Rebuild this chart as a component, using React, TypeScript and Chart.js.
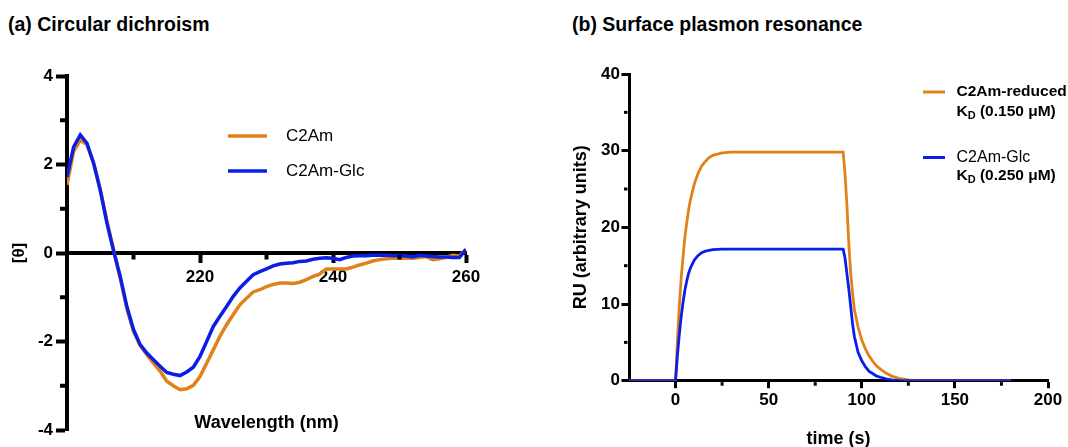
import React, { useEffect, useRef } from 'react';
import { Chart, registerables } from 'chart.js';

Chart.register(...registerables);

const FONT = "'Liberation Sans', Arial, Helvetica, sans-serif";
const ORANGE = '#E0821A';
const BLUE = '#0A1EE6';

// ---------- (a) Circular dichroism ----------
const wavelengths = [
  200, 201, 202, 203, 204, 205, 206, 207, 208, 209,
  210, 211, 212, 213, 214, 215, 216, 217, 218, 219,
  220, 221, 222, 223, 224, 225, 226, 227, 228, 229,
  230, 231, 232, 233, 234, 235, 236, 237, 238, 239,
  240, 241, 242, 243, 244, 245, 246, 247, 248, 249,
  250, 251, 252, 253, 254, 255, 256, 257, 258, 259, 260,
];
const cdC2Am = [
  1.54, 2.30, 2.55, 2.45, 2.03, 1.44, 0.72, 0.08, -0.57, -1.25,
  -1.77, -2.09, -2.30, -2.49, -2.67, -2.90, -3.00, -3.09, -3.07, -2.99,
  -2.79, -2.49, -2.19, -1.88, -1.62, -1.39, -1.17, -1.02, -0.88, -0.83,
  -0.76, -0.71, -0.68, -0.68, -0.69, -0.66, -0.60, -0.53, -0.48, -0.36,
  -0.36, -0.36, -0.36, -0.32, -0.27, -0.23, -0.18, -0.15, -0.13, -0.12,
  -0.12, -0.12, -0.12, -0.10, -0.08, -0.15, -0.13, -0.10, -0.05, -0.07, 0.08,
];
const cdC2AmGlc = [
  1.72, 2.40, 2.67, 2.48, 2.03, 1.42, 0.68, 0.05, -0.53, -1.21,
  -1.73, -2.07, -2.26, -2.41, -2.56, -2.70, -2.74, -2.77, -2.69, -2.58,
  -2.34, -2.00, -1.66, -1.43, -1.21, -0.98, -0.79, -0.64, -0.49, -0.42,
  -0.36, -0.29, -0.25, -0.23, -0.22, -0.19, -0.18, -0.14, -0.12, -0.11,
  -0.12, -0.15, -0.10, -0.07, -0.06, -0.06, -0.05, -0.05, -0.05, -0.06,
  -0.06, -0.07, -0.09, -0.05, -0.07, -0.08, -0.09, -0.09, -0.10, -0.10, 0.08,
];
const cdXMajor = [220, 240, 260];
const cdXMinor = [210, 230, 250];
const cdYMajor = [-4, -2, 0, 2, 4];
const cdYMinor = [-3, -1, 1, 3];

// ---------- (b) Surface plasmon resonance ----------
const sprTime = [
  -25, 0, 1, 2, 3, 4, 5, 6, 7, 8,
  10, 12, 14, 16, 18, 20, 25, 30, 40, 50,
  60, 70, 80, 90, 91, 92, 93, 94, 95, 96,
  98, 100, 102, 104, 106, 108, 110, 113, 116, 120,
  125, 130, 140, 150, 160, 170, 180,
];
const sprReduced = [
  0, 0, 5.2, 9.7, 13.3, 16.1, 18.7, 20.6, 22.3, 23.6,
  25.6, 27.0, 28.0, 28.6, 29.1, 29.4, 29.7, 29.8, 29.8, 29.8,
  29.8, 29.8, 29.8, 29.8, 27.0, 23.0, 18.0, 14.2, 11.5, 9.3,
  7.0, 5.3, 4.1, 3.2, 2.5, 1.9, 1.5, 1.0, 0.6, 0.3,
  0.1, 0, 0, 0, 0, 0, 0,
];
const sprGlc = [
  0, 0, 3.3, 6.0, 8.3, 10.2, 11.8, 13.0, 14.0, 14.7,
  15.7, 16.3, 16.7, 16.9, 17.0, 17.1, 17.15, 17.15, 17.15, 17.15,
  17.15, 17.15, 17.15, 17.15, 16.0, 14.0, 12.0, 9.8, 7.5, 5.8,
  3.7, 2.6, 1.8, 1.2, 0.9, 0.6, 0.45, 0.25, 0.1, 0,
  0, 0, 0, 0, 0, 0, 0,
];
const sprXMajor = [0, 50, 100, 150, 200];
const sprXMinor = [25, 75, 125, 175];
const sprYMajor = [0, 10, 20, 30, 40];
const sprYMinor = [5, 15, 25, 35];

// ---------- plugins ----------
const minorTickPlugin = {
  id: 'minorTicks',
  afterDraw(chart: any, _args: any, opts: any) {
    const specs = (opts && opts.specs) || [];
    const ctx = chart.ctx;
    ctx.save();
    ctx.strokeStyle = '#000';
    ctx.lineCap = 'butt';
    for (const s of specs) {
      const scale = chart.scales[s.scaleId];
      ctx.lineWidth = s.width;
      for (const v of s.values) {
        const p = scale.getPixelForValue(v);
        ctx.beginPath();
        if (s.dir === 'left') {
          const x0 = chart.chartArea.left - s.border / 2;
          ctx.moveTo(x0, p);
          ctx.lineTo(x0 - s.length, p);
        } else {
          const base = s.baseAxis
            ? chart.scales[s.baseAxis].getPixelForValue(s.baseValue)
            : chart.chartArea.bottom;
          const y0 = base + s.border / 2;
          ctx.moveTo(p, y0);
          ctx.lineTo(p, y0 + s.length);
        }
        ctx.stroke();
      }
    }
    ctx.restore();
  },
};

const panelLegendPlugin = {
  id: 'panelLegend',
  afterDraw(chart: any, _args: any, opts: any) {
    const items = (opts && opts.items) || [];
    const ctx = chart.ctx;
    ctx.save();
    for (const it of items) {
      const ds = chart.data.datasets[it.datasetIndex];
      ctx.strokeStyle = ds.borderColor;
      ctx.lineWidth = it.lineWidth;
      ctx.lineCap = 'butt';
      ctx.beginPath();
      ctx.moveTo(it.x1, it.y);
      ctx.lineTo(it.x2, it.y);
      ctx.stroke();
      ctx.fillStyle = '#000';
      ctx.textAlign = 'left';
      ctx.textBaseline = 'middle';
      const rows = [
        { y: it.y, segs: [{ text: ds.label, size: it.size, weight: it.labelWeight }] },
        ...(it.extraRows || []),
      ];
      for (const row of rows) {
        let x = it.textX;
        for (const seg of row.segs) {
          ctx.font = `${seg.weight} ${seg.size}px ${FONT}`;
          ctx.fillText(seg.text, x, row.y + (seg.dy || 0));
          x += ctx.measureText(seg.text).width;
        }
      }
    }
    ctx.restore();
  },
};

const kdRow = (y: number, value: string) => ({
  y,
  segs: [
    { text: 'K', size: 15.5, weight: 'bold' },
    { text: 'D', size: 11, weight: 'bold', dy: 4 },
    { text: ` (${value} μM)`, size: 15.5, weight: 'bold' },
  ],
});

export default function App() {
  const leftRef = useRef<HTMLCanvasElement | null>(null);
  const rightRef = useRef<HTMLCanvasElement | null>(null);

  useEffect(() => {
    Chart.defaults.font.family = FONT;
    Chart.defaults.color = '#000';

    const tickFont = { size: 17, weight: 'bold' as const };

    const left = new Chart(leftRef.current as HTMLCanvasElement, {
      type: 'line',
      data: {
        datasets: [
          {
            label: 'C2Am',
            data: wavelengths.map((w, i) => ({ x: w, y: cdC2Am[i] })),
            borderColor: ORANGE,
            backgroundColor: ORANGE,
            borderWidth: 3.5,
            pointRadius: 0,
            tension: 0,
            order: 1,
          },
          {
            label: 'C2Am-Glc',
            data: wavelengths.map((w, i) => ({ x: w, y: cdC2AmGlc[i] })),
            borderColor: BLUE,
            backgroundColor: BLUE,
            borderWidth: 3.5,
            pointRadius: 0,
            tension: 0,
            order: 0,
          },
        ],
      },
      options: {
        responsive: false,
        animation: false,
        events: [],
        layout: { padding: { left: 9, right: 74, top: 76, bottom: 0 } },
        plugins: {
          legend: { display: false },
          tooltip: { enabled: false },
          minorTicks: {
            specs: [
              { scaleId: 'x2', values: cdXMinor, dir: 'down', baseAxis: 'y', baseValue: 0, border: 4, length: 4.5, width: 4 },
              { scaleId: 'y', values: cdYMinor, dir: 'left', border: 4, length: 5, width: 4 },
            ],
          },
          panelLegend: {
            items: [
              { datasetIndex: 0, x1: 228, x2: 267, y: 136, textX: 286, size: 17, labelWeight: 'normal', lineWidth: 3.5 },
              { datasetIndex: 1, x1: 228, x2: 267, y: 171, textX: 286, size: 17, labelWeight: 'normal', lineWidth: 3.5 },
            ],
          },
        } as any,
        scales: {
          x: {
            type: 'linear',
            min: 200,
            max: 260,
            position: 'bottom',
            ticks: { display: false },
            grid: { display: false },
            border: { display: false },
            title: {
              display: true,
              text: 'Wavelength (nm)',
              font: { size: 18, weight: 'bold', lineHeight: 1 },
              padding: { top: 0, bottom: 15 },
            },
            afterFit: (s: any) => { s.height = 17; },
          },
          x2: {
            type: 'linear',
            axis: 'x',
            min: 200,
            max: 260,
            position: { y: 0 },
            afterBuildTicks: (s: any) => { s.ticks = cdXMajor.map((v) => ({ value: v })); },
            ticks: { font: tickFont, padding: 6.4, color: '#000', autoSkip: false, maxRotation: 0, callback: (v: any) => String(v) },
            grid: { display: true, drawOnChartArea: false, tickLength: 8, tickWidth: 4, tickColor: '#000' },
            border: { display: true, color: '#000', width: 4 },
            afterFit: (s: any) => { s.height = 0; },
          } as any,
          y: {
            type: 'linear',
            min: -4,
            max: 4,
            position: 'left',
            afterBuildTicks: (s: any) => { s.ticks = cdYMajor.map((v) => ({ value: v })); },
            ticks: { font: tickFont, padding: 3, color: '#000', autoSkip: false, callback: (v: any) => String(v) },
            grid: { display: true, drawOnChartArea: false, tickLength: 11, tickWidth: 4, tickColor: '#000' },
            border: { display: true, color: '#000', width: 4 },
            title: {
              display: true,
              text: '[θ]',
              font: { size: 17, weight: 'bold', lineHeight: 1 },
              padding: { top: 2, bottom: 0 },
            },
            afterFit: (s: any) => { s.width = 58; },
          },
        },
      },
      plugins: [minorTickPlugin, panelLegendPlugin],
    } as any);

    const right = new Chart(rightRef.current as HTMLCanvasElement, {
      type: 'line',
      data: {
        datasets: [
          {
            label: 'C2Am-reduced',
            data: sprTime.map((t, i) => ({ x: t, y: sprReduced[i] })),
            borderColor: ORANGE,
            backgroundColor: ORANGE,
            borderWidth: 2.8,
            pointRadius: 0,
            tension: 0,
            order: 1,
          },
          {
            label: 'C2Am-Glc',
            data: sprTime.map((t, i) => ({ x: t, y: sprGlc[i] })),
            borderColor: BLUE,
            backgroundColor: BLUE,
            borderWidth: 2.8,
            pointRadius: 0,
            tension: 0,
            order: 0,
          },
        ],
      },
      options: {
        responsive: false,
        animation: false,
        events: [],
        layout: { padding: { left: 30, right: 20, top: 74, bottom: 0 } },
        plugins: {
          legend: { display: false },
          tooltip: { enabled: false },
          minorTicks: {
            specs: [
              { scaleId: 'x', values: sprXMinor, dir: 'down', border: 3, length: 3.5, width: 3 },
              { scaleId: 'y', values: sprYMinor, dir: 'left', border: 3, length: 3.5, width: 3 },
            ],
          },
          panelLegend: {
            items: [
              {
                datasetIndex: 0, x1: 383, x2: 405, y: 92, textX: 416.5, size: 15.5, labelWeight: 'bold', lineWidth: 3,
                extraRows: [kdRow(112, '0.150')],
              },
              {
                datasetIndex: 1, x1: 383, x2: 405, y: 157.5, textX: 416.5, size: 16, labelWeight: 'normal', lineWidth: 3,
                extraRows: [kdRow(176, '0.250')],
              },
            ],
          },
        } as any,
        scales: {
          x: {
            type: 'linear',
            min: -25,
            max: 200,
            position: 'bottom',
            afterBuildTicks: (s: any) => { s.ticks = sprXMajor.map((v) => ({ value: v })); },
            ticks: { font: tickFont, padding: 1.6, color: '#000', autoSkip: false, maxRotation: 0, callback: (v: any) => String(v) },
            grid: { display: true, drawOnChartArea: false, tickLength: 7.5, tickWidth: 3, tickColor: '#000' },
            border: { display: true, color: '#000', width: 3 },
            title: {
              display: true,
              text: 'time (s)',
              font: { size: 18, weight: 'bold', lineHeight: 1 },
              padding: { top: 0, bottom: -1 },
            },
            afterFit: (s: any) => { s.height = 66.3; },
          },
          y: {
            type: 'linear',
            min: 0,
            max: 40,
            position: 'left',
            afterBuildTicks: (s: any) => { s.ticks = sprYMajor.map((v) => ({ value: v })); },
            ticks: { font: tickFont, padding: 1.5, color: '#000', autoSkip: false, callback: (v: any) => String(v) },
            grid: { display: true, drawOnChartArea: false, tickLength: 7.5, tickWidth: 3, tickColor: '#000' },
            border: { display: true, color: '#000', width: 3 },
            title: {
              display: true,
              text: 'RU (arbitrary units)',
              font: { size: 18, weight: 'bold', lineHeight: 1 },
              padding: { top: 2, bottom: 0 },
            },
            afterFit: (s: any) => { s.width = 59; },
          },
        },
      },
      plugins: [minorTickPlugin, panelLegendPlugin],
    } as any);

    return () => {
      left.destroy();
      right.destroy();
    };
  }, []);

  const titleStyle: React.CSSProperties = {
    position: 'absolute',
    top: 12,
    font: `bold 19.5px ${FONT}`,
    lineHeight: '24px',
    whiteSpace: 'nowrap',
    color: '#000',
  };

  return (
    <div style={{ position: 'fixed', left: 0, top: 0, width: 1068, height: 447, background: '#fff', overflow: 'hidden' }}>
      <div style={{ ...titleStyle, left: 8 }}>(a) Circular dichroism</div>
      <div style={{ ...titleStyle, left: 572 }}>(b) Surface plasmon resonance</div>
      <canvas ref={leftRef} width={540} height={447} style={{ position: 'absolute', left: 0, top: 0 }} />
      <canvas ref={rightRef} width={528} height={447} style={{ position: 'absolute', left: 540, top: 0 }} />
    </div>
  );
}
